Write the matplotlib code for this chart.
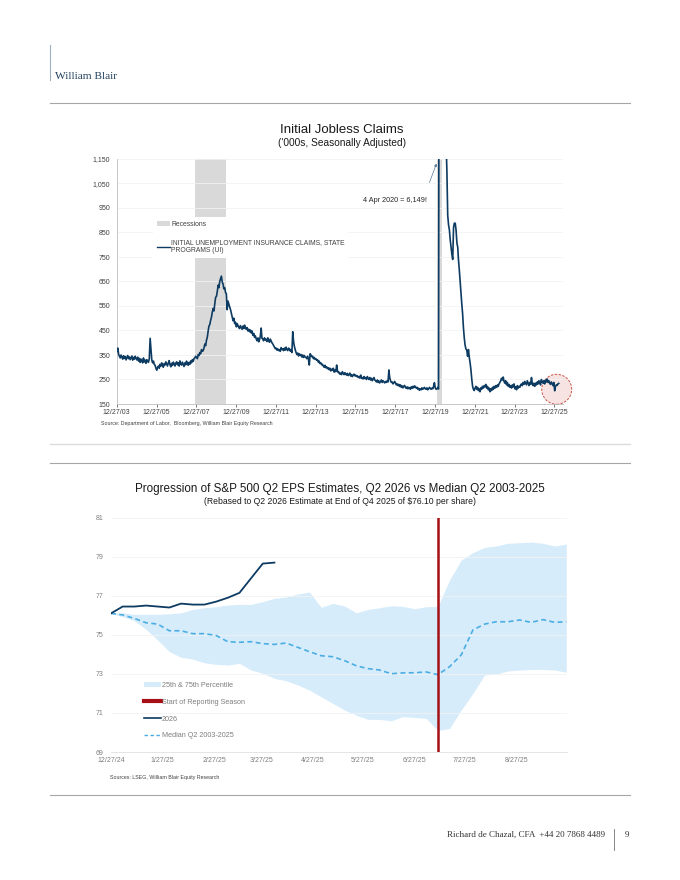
import datetime as dt
import numpy as np
import matplotlib
matplotlib.use("Agg")
import matplotlib.pyplot as plt
import matplotlib.dates as mdates
from matplotlib.patches import Patch, Ellipse
from matplotlib.lines import Line2D
from matplotlib.ticker import FuncFormatter

plt.rcParams['font.family'] = ['Liberation Sans', 'DejaVu Sans']

# ---------------- DATA: chart 1 (semi-monthly readings, '000s) ----------------
claims_2004 = [365,378,352,345,338,350,341,333,347,336,344,330,339,348,335,342,331,338,346,329,340,333,345,336]
claims_2005 = [330,341,325,336,320,333,327,318,338,322,329,316,331,324,320,335,418,372,330,318,325,312,308,296]
claims_2006 = [288,299,305,296,312,304,318,307,300,315,309,322,313,305,318,327,310,302,316,308,321,312,305,317]
claims_2007 = [322,310,318,305,326,314,309,321,312,303,318,310,325,315,308,320,312,326,318,331,324,336,338,345]
claims_2008 = [340,335,352,348,360,355,372,365,368,378,395,388,410,422,448,468,475,492,505,525,540,530,560,585]
claims_2009 = [590,610,635,625,650,660,672,648,640,620,625,605,600,535,570,558,545,535,520,505,490,500,478,484]
claims_2010 = [465,478,470,462,458,470,462,455,468,458,472,460,455,462,448,455,445,452,440,448,430,438,422,428]
claims_2011 = [415,408,420,404,412,425,460,418,415,408,420,412,414,405,420,410,402,415,408,400,395,388,382,376]
claims_2012 = [378,370,375,368,372,365,380,372,375,368,378,370,382,372,368,378,375,366,372,360,445,405,385,372]
claims_2013 = [360,352,358,346,355,348,352,342,350,340,348,342,340,335,345,332,309,355,350,343,345,335,340,332]
claims_2014 = [335,328,330,320,325,315,318,310,312,305,300,308,298,302,294,298,290,296,285,292,288,296,280,288]
claims_2015 = [282,309,285,278,280,272,276,270,282,275,270,278,272,268,275,266,270,276,264,270,262,268,272,265]
claims_2016 = [268,262,265,258,262,256,268,255,258,252,262,254,258,250,262,255,250,258,248,255,245,252,258,248]
claims_2017 = [245,240,248,238,244,236,242,248,238,245,240,236,242,238,245,240,289,258,245,238,240,232,236,242]
claims_2018 = [236,228,232,225,230,222,228,218,224,216,222,226,218,214,220,212,218,215,210,220,214,222,216,224]
claims_2019 = [220,215,218,210,214,206,212,208,216,210,214,218,212,210,216,208,212,218,214,210,215,212,222,237]
claims_2020 = [215,210,212,218,211,3000,6149,4400,2800,2200,1600,1450,1400,1230,1100,920,880,860,820,790,760,740,870,888]
claims_2021 = [888,860,807,790,740,700,650,600,560,520,460,420,390,375,370,345,372,340,318,290,250,222,210,205]
claims_2022 = [215,222,210,218,205,212,200,216,210,222,215,225,220,230,215,222,208,215,200,212,205,218,210,222]
claims_2023 = [215,225,218,228,222,232,238,245,255,248,260,242,235,245,228,238,222,230,218,225,215,228,220,232]
claims_2024 = [212,220,208,225,215,222,218,228,232,225,238,230,242,235,228,245,235,225,238,230,258,232,225,235]
claims_2025 = [222,235,228,240,232,245,238,228,250,242,235,245,232,248,240,252,238,245,235,230,240,232,225,238]
claims_2026 = [204,222,228,226,232,234]
claims_years = [2004,2005,2006,2007,2008,2009,2010,2011,2012,2013,2014,2015,
                2016,2017,2018,2019,2020,2021,2022,2023,2024,2025,2026]
claims_by_year = [claims_2004,claims_2005,claims_2006,claims_2007,claims_2008,claims_2009,
                  claims_2010,claims_2011,claims_2012,claims_2013,claims_2014,claims_2015,
                  claims_2016,claims_2017,claims_2018,claims_2019,claims_2020,claims_2021,
                  claims_2022,claims_2023,claims_2024,claims_2025,claims_2026]
recessions = [("2007-12-01", "2009-06-30"), ("2020-02-01", "2020-04-30")]
c1_xticks = ["2003-12-27","2005-12-27","2007-12-27","2009-12-27","2011-12-27","2013-12-27",
             "2015-12-27","2017-12-27","2019-12-27","2021-12-27","2023-12-27","2025-12-27"]
c1_yticks = [150,250,350,450,550,650,750,850,950,1050,1150]

# ---------------- DATA: chart 2 (weekly, from 12/27/24) ----------------
eps_2026 = [76.10,76.45,76.45,76.50,76.45,76.40,76.60,76.55,76.55,76.70,76.90,77.15,77.90,78.65,78.70]
eps_median = [76.10,76.02,75.84,75.62,75.55,75.21,75.21,75.06,75.06,74.97,74.65,74.62,74.65,74.55,
              74.51,74.58,74.36,74.14,73.93,73.88,73.68,73.42,73.27,73.20,73.01,73.05,73.06,73.10,
              72.96,73.37,73.97,75.25,75.55,75.67,75.67,75.76,75.64,75.78,75.64,75.67]
eps_p75 = [76.10,76.13,76.05,76.05,76.05,76.08,76.13,76.30,76.39,76.44,76.53,76.56,76.56,76.70,
           76.87,76.94,77.09,77.19,76.41,76.61,76.48,76.13,76.30,76.39,76.49,76.46,76.34,76.44,
           76.45,77.81,78.83,79.21,79.48,79.55,79.69,79.72,79.75,79.69,79.55,79.65]
eps_p25 = [76.10,75.93,75.73,75.28,74.74,74.14,73.85,73.76,73.57,73.49,73.45,73.54,73.20,73.03,
           72.77,72.65,72.43,72.17,71.83,71.49,71.15,70.89,70.67,70.67,70.60,70.81,70.77,70.72,
           70.10,70.21,71.15,72.00,72.94,72.99,73.15,73.20,73.23,73.23,73.20,73.08]
eps_start = "2024-12-27"
reporting_start = "2025-07-11"
c2_xtick_dates = ["2024-12-27","2025-01-27","2025-02-27","2025-03-27","2025-04-27",
                  "2025-05-27","2025-06-27","2025-07-27","2025-08-27"]
c2_xtick_labels = ["12/27/24","1/27/25","2/27/25","3/27/25","4/27/25","5/27/25","6/27/25","7/27/25","8/27/25"]
c2_yticks = [69,71,73,75,77,79,81]

# ---------------- FIGURE ----------------
W, H = 680, 880
fig = plt.figure(figsize=(W/100, H/100), dpi=100)
fig.patch.set_facecolor("white")

def fx(x): return x / W
def fy(y): return 1 - y / H
def rect(l, t, r, b): return [l/W, 1 - b/H, (r-l)/W, (b-t)/H]

def hline(y, x0, x1, color, lw=0.8):
    fig.add_artist(Line2D([fx(x0), fx(x1)], [fy(y), fy(y)], color=color, lw=lw, transform=fig.transFigure))
def vline(x, y0, y1, color, lw=0.8):
    fig.add_artist(Line2D([fx(x), fx(x)], [fy(y0), fy(y1)], color=color, lw=lw, transform=fig.transFigure))

# header / footer
serif = ['Liberation Serif', 'DejaVu Serif']
vline(50, 45, 80, "#9fb0c0", 0.8)
fig.text(fx(55), fy(79), "William Blair", family=serif, fontsize=8.2, color="#1f3e5c", va="baseline")
hline(103, 50, 630, "#a6a6a6", 0.8)
hline(444.5, 50, 630, "#dcdcdc", 1.0)
hline(463, 50, 630, "#a6a6a6", 0.8)
hline(795, 50, 630, "#a6a6a6", 0.8)
fig.text(fx(605), fy(837), "Richard de Chazal, CFA  +44 20 7868 4489", family=serif, fontsize=6.5,
         color="#333333", ha="right", va="baseline")
vline(614.3, 829, 850, "#888888", 0.7)
fig.text(fx(627), fy(837), "9", family=serif, fontsize=6.5, color="#333333", ha="center", va="baseline")

# ---------------- CHART 1 ----------------
navy = "#0d3b61"
dates1, vals1 = [], []
for yr, lst in zip(claims_years, claims_by_year):
    for i, v in enumerate(lst):
        m = i // 2 + 1
        d = 1 if i % 2 == 0 else 16
        dates1.append(dt.datetime(yr, m, d))
        vals1.append(v)

ax1 = fig.add_axes(rect(116.7, 159, 563.3, 404))
for s, e in recessions:
    ax1.axvspan(dt.datetime.fromisoformat(s), dt.datetime.fromisoformat(e), color="#d9d9d9", lw=0, zorder=1)
ax1.plot(dates1, vals1, color=navy, lw=1.2, zorder=3)
ax1.set_ylim(150, 1150)
ax1.set_xlim(dt.datetime(2003, 12, 27), dt.datetime(2026, 6, 8))
ax1.set_yticks(c1_yticks)
ax1.yaxis.set_major_formatter(FuncFormatter(lambda v, p: f"{v:,.0f}"))
ax1.set_xticks([dt.datetime.fromisoformat(t) for t in c1_xticks])
ax1.xaxis.set_major_formatter(mdates.DateFormatter("%m/%d/%y"))
ax1.tick_params(axis="both", labelsize=5, colors="#404040", length=2, width=0.5, pad=1.5)
ax1.tick_params(axis="y", length=0, pad=4.5)
ax1.grid(axis="y", color="#f2f2f2", lw=0.6, zorder=0)
for sp in ["top", "right"]:
    ax1.spines[sp].set_visible(False)
for sp in ["left", "bottom"]:
    ax1.spines[sp].set_color("#bfbfbf")
    ax1.spines[sp].set_linewidth(0.6)

leg1 = ax1.legend(handles=[Patch(facecolor="#d9d9d9", edgecolor="none", label="Recessions"),
                           Line2D([], [], color=navy, lw=1.0,
                                  label="INITIAL UNEMPLOYMENT INSURANCE CLAIMS, STATE\nPROGRAMS (UI)")],
                  loc="upper left", bbox_to_anchor=(fx(150), fy(214)), bbox_transform=fig.transFigure,
                  fontsize=4.9, frameon=True, framealpha=1, edgecolor="none", facecolor="white",
                  handlelength=1.9, handleheight=0.6, handletextpad=0.2, labelspacing=1.7,
                  borderpad=0.5, fancybox=False)
for t in leg1.get_texts():
    t.set_color("#404040")
leg1.set_zorder(5)

fig.text(fx(342), fy(133), "Initial Jobless Claims", fontsize=9.5, color="#1a1a1a", ha="center")
fig.text(fx(342), fy(146), "('000s, Seasonally Adjusted)", fontsize=7.3, color="#1a1a1a", ha="center")
fig.text(fx(101), fy(425), "Source: Department of Labor,  Bloomberg, William Blair Equity Research",
         fontsize=3.8, color="#404040")
fig.text(fx(395), fy(202.5), "4 Apr 2020 = 6,149!", fontsize=5.2, color="#262626", ha="center")
ax1.annotate("", xy=(fx(437.5), fy(161)), xytext=(fx(428.5), fy(185)),
             xycoords="figure fraction", textcoords="figure fraction",
             arrowprops=dict(arrowstyle="-|>", color="#5a7a98", lw=0.5, mutation_scale=4))
circ = Ellipse((fx(556.7), fy(389.3)), 30/W, 30/H, transform=fig.transFigure,
               facecolor="#f7dede", edgecolor="#c0392b", ls=(0, (2.5, 1.5)), lw=0.7, alpha=0.85, zorder=2)
fig.add_artist(circ)
ax1.set_zorder(3)
ax1.patch.set_alpha(0)

# ---------------- CHART 2 ----------------
start = dt.datetime.fromisoformat(eps_start)
wk_med = [start + dt.timedelta(days=7*i) for i in range(len(eps_median))]
wk_26 = [start + dt.timedelta(days=7*i) for i in range(len(eps_2026))]

ax2 = fig.add_axes(rect(111, 517.7, 567.3, 752))
ax2.fill_between(wk_med, eps_p25, eps_p75, color="#d6ecfb", lw=0, zorder=1)
ax2.plot(wk_med, eps_median, color="#4aaee3", lw=1.2, ls=(0, (3, 2)), zorder=3)
ax2.plot(wk_26, eps_2026, color=navy, lw=1.3, zorder=4)
ax2.axvline(dt.datetime.fromisoformat(reporting_start), color="#a50f15", lw=1.8, zorder=5)
ax2.set_ylim(69, 81)
ax2.set_xlim(start, start + dt.timedelta(days=273.6))
ax2.set_yticks(c2_yticks)
ax2.set_xticks([dt.datetime.fromisoformat(t) for t in c2_xtick_dates])
ax2.set_xticklabels(c2_xtick_labels)
ax2.tick_params(axis="both", labelsize=5, colors="#7f7f7f", length=0)
ax2.tick_params(axis="x", pad=3.5)
ax2.tick_params(axis="y", pad=5.5)
ax2.grid(axis="y", color="#f2f2f2", lw=0.6, zorder=0)
for sp in ["top", "right", "left"]:
    ax2.spines[sp].set_visible(False)
ax2.spines["bottom"].set_color("#e0e0e0")
ax2.spines["bottom"].set_linewidth(0.6)

leg2 = ax2.legend(handles=[Patch(facecolor="#d6ecfb", edgecolor="none", label="25th & 75th Percentile"),
                           Line2D([], [], color="#a50f15", lw=3.0, label="Start of Reporting Season"),
                           Line2D([], [], color=navy, lw=1.2, label="2026"),
                           Line2D([], [], color="#4aaee3", lw=1.0, ls=(0, (2.5, 1.8)), label="Median Q2 2003-2025")],
                  loc="upper left", bbox_to_anchor=(fx(139), fy(677)), bbox_transform=fig.transFigure,
                  fontsize=5.2, frameon=False, handlelength=2.3, handleheight=0.5, handletextpad=0.2,
                  labelspacing=1.35, borderpad=0.2)
for t in leg2.get_texts():
    t.set_color("#7f7f7f")

fig.text(fx(340), fy(492), "Progression of S&P 500 Q2 EPS Estimates, Q2 2026 vs Median Q2 2003-2025",
         fontsize=8.4, color="#1a1a1a", ha="center")
fig.text(fx(340), fy(503.5), "(Rebased to Q2 2026 Estimate at End of Q4 2025 of $76.10 per share)",
         fontsize=6.2, color="#1a1a1a", ha="center")
fig.text(fx(110), fy(779), "Sources: LSEG, William Blair Equity Research", fontsize=3.8, color="#404040")

fig.savefig("out.png", dpi=100, facecolor="white")
